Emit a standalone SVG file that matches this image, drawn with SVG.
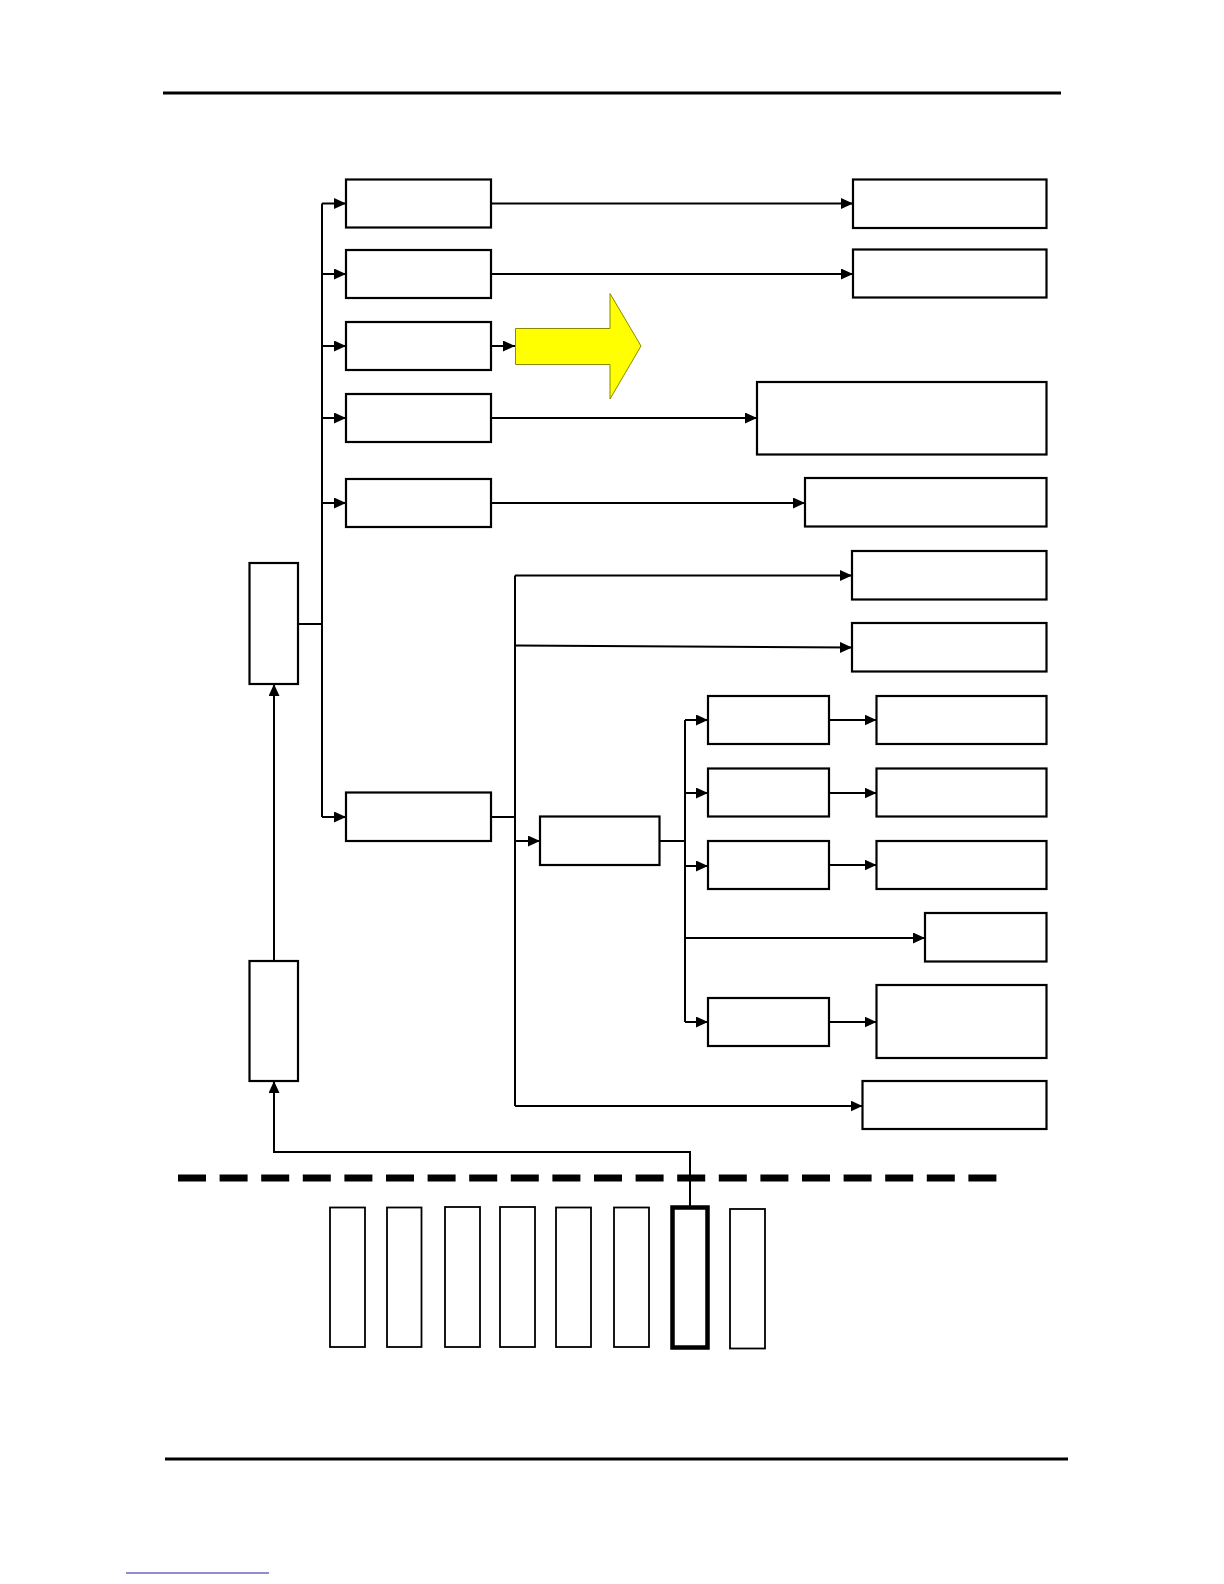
<svg xmlns="http://www.w3.org/2000/svg" width="1224" height="1584" viewBox="0 0 1224 1584">
<style>
.box{fill:#fff;stroke:#000;stroke-width:2.2}
.slot{fill:#fff;stroke:#000;stroke-width:1.8}
.bold{fill:#fff;stroke:#000;stroke-width:4.5}
.c{fill:none;stroke:#000;stroke-width:2}
.ca{fill:none;stroke:#000;stroke-width:2;marker-end:url(#ah)}
</style>
<defs>
<marker id="ah" markerUnits="userSpaceOnUse" markerWidth="12" markerHeight="11" refX="12" refY="5.5" orient="auto">
<path d="M0,0 L12,5.5 L0,11 z" fill="#000"/>
</marker>
</defs>
<rect width="1224" height="1584" fill="#fff"/>
<g id="page-rules">
<line x1="163" y1="93" x2="1061" y2="93" stroke="#000" stroke-width="3"/>
<line x1="165" y1="1459" x2="1068" y2="1459" stroke="#000" stroke-width="3"/>
<line x1="126" y1="1573" x2="269" y2="1573" stroke="#1f1fa0" stroke-width="1.2"/>
<line x1="178" y1="1178" x2="1000" y2="1178" stroke="#000" stroke-width="7" stroke-dasharray="28 13.6"/>
</g>
<g id="connectors">
<polyline class="ca" points="690,1207 690,1152 274,1152 274,1081"/>
<line class="ca" x1="274" y1="961" x2="274" y2="684"/>
<polyline class="c" points="298,624 322,624"/>
<line class="c" x1="322" y1="203.5" x2="322" y2="817"/>
<line class="ca" x1="322" y1="203.5" x2="346" y2="203.5"/>
<line class="ca" x1="322" y1="274" x2="346" y2="274"/>
<line class="ca" x1="322" y1="346" x2="346" y2="346"/>
<line class="ca" x1="322" y1="418" x2="346" y2="418"/>
<line class="ca" x1="322" y1="503" x2="346" y2="503"/>
<line class="ca" x1="322" y1="817" x2="346" y2="817"/>
<line class="ca" x1="491" y1="203.5" x2="853" y2="203.5"/>
<line class="ca" x1="491" y1="274" x2="853" y2="274"/>
<line class="ca" x1="491" y1="346" x2="515" y2="346"/>
<line class="ca" x1="491" y1="418" x2="757" y2="418"/>
<line class="ca" x1="491" y1="503" x2="805" y2="503"/>
<line class="c" x1="491" y1="817" x2="515" y2="817"/>
<line class="c" x1="515" y1="575.5" x2="515" y2="1106"/>
<line class="ca" x1="515" y1="575.5" x2="852" y2="575.5"/>
<line class="ca" x1="515" y1="645.5" x2="852" y2="647.5"/>
<line class="ca" x1="515" y1="841" x2="540" y2="841"/>
<line class="ca" x1="515" y1="1106" x2="862.5" y2="1106"/>
<line class="c" x1="659.5" y1="841" x2="685" y2="841"/>
<line class="c" x1="685" y1="720" x2="685" y2="1022"/>
<line class="ca" x1="685" y1="720" x2="708" y2="720"/>
<line class="ca" x1="685" y1="793" x2="708" y2="793"/>
<line class="ca" x1="685" y1="866" x2="708" y2="866"/>
<line class="ca" x1="685" y1="938" x2="925" y2="938"/>
<line class="ca" x1="685" y1="1022" x2="708" y2="1022"/>
<line class="ca" x1="829" y1="720" x2="876.5" y2="720"/>
<line class="ca" x1="829" y1="793" x2="876.5" y2="793"/>
<line class="ca" x1="829" y1="865" x2="876.5" y2="865"/>
<line class="ca" x1="829" y1="1022" x2="876.5" y2="1022"/>
</g>
<g id="n-tall1"><rect class="box" x="249.5" y="563" width="48.5" height="121"/></g>
<g id="n-tall2"><rect class="box" x="249.5" y="961" width="48.5" height="120"/></g>
<g id="n-l1"><rect class="box" x="346" y="179.5" width="145" height="48"/></g>
<g id="n-l2"><rect class="box" x="346" y="250" width="145" height="48"/></g>
<g id="n-l3"><rect class="box" x="346" y="322" width="145" height="48"/></g>
<g id="n-l4"><rect class="box" x="346" y="394" width="145" height="48"/></g>
<g id="n-l5"><rect class="box" x="346" y="479" width="145" height="48"/></g>
<g id="n-l6"><rect class="box" x="346" y="792.5" width="145" height="48.5"/></g>
<g id="n-yellow-arrow"><polygon points="515.5,328.5 610,328.5 610,293.5 641,346 610,399 610,364.5 515.5,364.5" fill="#ffff00" stroke="#8a8a00" stroke-width="1"/></g>
<g id="n-r1"><rect class="box" x="853" y="179.5" width="193.5" height="48.5"/></g>
<g id="n-r2"><rect class="box" x="853" y="249.5" width="193.5" height="48"/></g>
<g id="n-r3"><rect class="box" x="757" y="382" width="289.5" height="72.5"/></g>
<g id="n-r4"><rect class="box" x="805" y="478" width="241.5" height="48.5"/></g>
<g id="n-r5"><rect class="box" x="852" y="551" width="194.5" height="48.5"/></g>
<g id="n-r6"><rect class="box" x="852" y="623" width="194.5" height="48.5"/></g>
<g id="n-mid"><rect class="box" x="540" y="816.5" width="119.5" height="48.5"/></g>
<g id="n-c1"><rect class="box" x="708" y="696" width="121" height="48"/></g>
<g id="n-c2"><rect class="box" x="708" y="768.5" width="121" height="48"/></g>
<g id="n-c3"><rect class="box" x="708" y="841" width="121" height="48"/></g>
<g id="n-c5"><rect class="box" x="708" y="998" width="121" height="48"/></g>
<g id="n-rc1"><rect class="box" x="876.5" y="696" width="170" height="48"/></g>
<g id="n-rc2"><rect class="box" x="876.5" y="768.5" width="170" height="48"/></g>
<g id="n-rc3"><rect class="box" x="876.5" y="841" width="170" height="48"/></g>
<g id="n-rc4"><rect class="box" x="925" y="913" width="121.5" height="48.5"/></g>
<g id="n-rc5"><rect class="box" x="876.5" y="985" width="170" height="73"/></g>
<g id="n-rlast"><rect class="box" x="862.5" y="1081" width="184" height="48"/></g>
<g id="n-s1"><rect class="slot" x="330" y="1207.5" width="35" height="139.5"/></g>
<g id="n-s2"><rect class="slot" x="387" y="1207.5" width="34.5" height="139.5"/></g>
<g id="n-s3"><rect class="slot" x="445" y="1207" width="35" height="140"/></g>
<g id="n-s4"><rect class="slot" x="500" y="1207" width="35" height="140"/></g>
<g id="n-s5"><rect class="slot" x="556" y="1207.5" width="35" height="139.5"/></g>
<g id="n-s6"><rect class="slot" x="614" y="1207.5" width="35" height="139.5"/></g>
<g id="n-s7"><rect class="bold" x="672.5" y="1207.5" width="35" height="140"/></g>
<g id="n-s8"><rect class="slot" x="730" y="1209" width="35" height="139.5"/></g>
</svg>
